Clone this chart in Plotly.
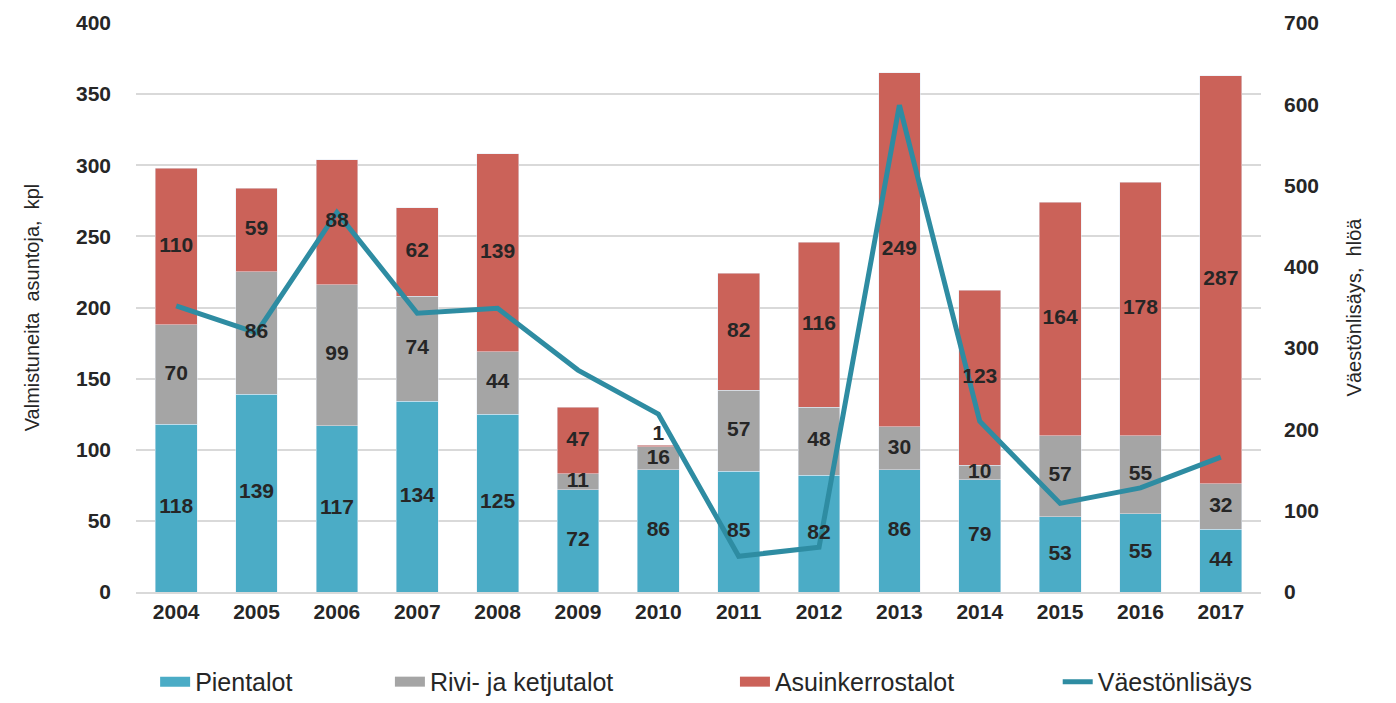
import plotly.graph_objects as go

years = ["2004", "2005", "2006", "2007", "2008", "2009", "2010",
         "2011", "2012", "2013", "2014", "2015", "2016", "2017"]
pientalot = [118, 139, 117, 134, 125, 72, 86, 85, 82, 86, 79, 53, 55, 44]
rivitalot = [70, 86, 99, 74, 44, 11, 16, 57, 48, 30, 10, 57, 55, 32]
kerrostalot = [110, 59, 88, 62, 139, 47, 1, 82, 116, 249, 123, 164, 178, 287]
vaestonlisays = [352, 319, 467, 343, 349, 273, 219, 44, 55, 599, 210, 109, 128, 166]

FONT = "Liberation Sans, Arial, sans-serif"
TXT = "#262626"
lab_font = dict(family=FONT, size=21, color=TXT, weight="bold")
C_PIEN, C_RIVI, C_KERR, C_LINE = "#4BACC6", "#A5A5A5", "#CB6259", "#2E8CA2"

fig = go.Figure()
series = [("Pientalot", pientalot, C_PIEN), ("Rivi- ja ketjutalot", rivitalot, C_RIVI),
          ("Asuinkerrostalot", kerrostalot, C_KERR)]
for nm, vals, col in series:
    fig.add_trace(go.Bar(x=years, y=vals, name=nm, marker_color=col, showlegend=False,
                         legendgroup=nm))
fig.add_trace(go.Scatter(x=years, y=vaestonlisays, name="Väestönlisäys", yaxis="y2",
                         mode="lines", line=dict(color=C_LINE, width=5), showlegend=False,
                         legendgroup="Väestönlisäys"))

# data labels drawn above the line (centre of each stacked segment)
base = [0] * len(years)
for nm, vals, col in series:
    ys, pos = [], []
    for i, v in enumerate(vals):
        if v < 5:
            ys.append(base[i] + v)
            pos.append("top center")
        else:
            ys.append(base[i] + v / 2)
            pos.append("middle center")
        base[i] += v
    fig.add_trace(go.Scatter(x=years, y=ys, yaxis="y3", mode="text", text=vals,
                             textposition=pos, textfont=lab_font, showlegend=False,
                             hoverinfo="skip", cliponaxis=False))

# legend entries, one legend box each so they sit where the original has them
leg_items = [("Pientalot", C_PIEN, 15, "legend", 0.017),
             ("Rivi- ja ketjutalot", C_RIVI, 15, "legend2", 0.2257),
             ("Asuinkerrostalot", C_KERR, 15, "legend3", 0.5324),
             ("Väestönlisäys", C_LINE, 5, "legend4", 0.8193)]
for nm, col, w, lg, _ in leg_items:
    fig.add_trace(go.Scatter(x=[None], y=[None], mode="lines", name=nm, legendgroup=nm,
                             legend=lg, line=dict(color=col, width=w)))

W, H = 1388, 695
legend_cfg = {}
for nm, col, w, lg, lx in leg_items:
    legend_cfg[lg] = dict(orientation="h", x=lx, xanchor="left", y=-0.158, yanchor="middle",
                          font=dict(family=FONT, size=25, color=TXT),
                          bgcolor="rgba(0,0,0,0)")

fig.update_layout(
    width=W, height=H,
    barmode="stack", bargap=0.48,
    plot_bgcolor="white", paper_bgcolor="white",
    font=dict(family=FONT, color=TXT),
    margin=dict(l=128, r=135, t=15, b=111, autoexpand=False),
    xaxis=dict(tickfont=dict(family=FONT, size=21, color=TXT, weight="bold"),
               range=[-0.5, len(years) - 0.5], autorange=False,
               showgrid=False, ticklabelstandoff=0, linecolor="#d9d9d9", showline=True,
               linewidth=1.5, automargin=False),
    yaxis=dict(range=[0, 400], dtick=50, showgrid=True, gridcolor="#d9d9d9", gridwidth=1.5,
               zeroline=False, automargin=False,
               tickfont=dict(family=FONT, size=21, color=TXT, weight="bold"),
               ticklabelstandoff=24,
               title=dict(text="Valmistuneita  asuntoja,  kpl", standoff=30,
                          font=dict(family=FONT, size=20, color=TXT))),
    yaxis2=dict(range=[0, 700], dtick=100, overlaying="y", side="right", showgrid=False,
                zeroline=False, automargin=False,
                tickfont=dict(family=FONT, size=21, color=TXT, weight="bold"),
                ticklabelstandoff=22,
                title=dict(text="Väestönlisäys,  hlöä", standoff=28,
                           font=dict(family=FONT, size=20, color=TXT))),
    yaxis3=dict(range=[0, 400], overlaying="y", visible=False, automargin=False),
    showlegend=True,
    **legend_cfg,
)

fig.write_html("out.html")
